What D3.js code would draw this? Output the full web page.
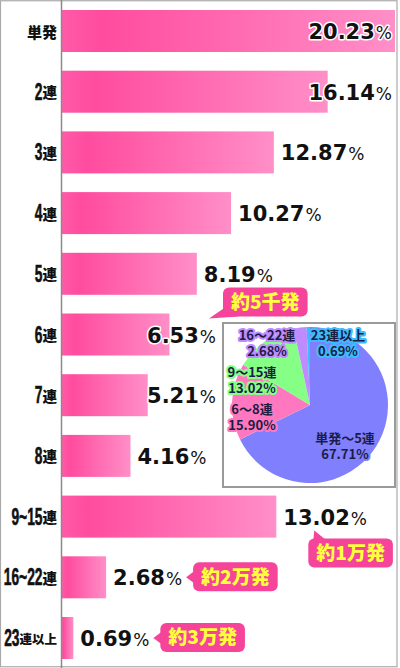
<!DOCTYPE html>
<html><head><meta charset="utf-8">
<script src="https://cdn.jsdelivr.net/npm/d3@7"></script>
<style>body{margin:0;background:#fff}svg{display:block}</style>
</head><body><svg id="c" width="400" height="668"></svg>
<script>
// ---- data ----
const categories = ["単発","2連","3連","4連","5連","6連","7連","8連","9~15連","16~22連","23連以上"];
const values = [20.23,16.14,12.87,10.27,8.19,6.53,5.21,4.16,13.02,2.68,0.69];
const pieCategories = ["単発〜5連","6〜8連","9〜15連","16〜22連","23連以上"];
const pieValues = [67.71,15.90,13.02,2.68,0.69];
const calloutCategories = ["6連","9~15連","16~22連","23連以上"];
const calloutTexts = ["約5千発","約1万発","約2万発","約3万発"];

// ---- layout / style ----
const W = 400, H = 668;
const JP = "'Noto Sans CJK JP','Noto Sans CJK SC',sans-serif";
const NUM = "'DejaVu Sans',sans-serif";
const box = {x: 223, y: 323, w: 172, h: 164};
const pieC = {x: 310, y: 405, r: 78};
const pieColors = ["#8080ff","#ff78bf","#86ff86","#bf8cff","#3cbcff"];
const pieLabelOffsets = [[35,33],[-58,4],[-58,-33],[-43,-70],[28,-70]];

const svg = d3.select("#c");
svg.append("rect").attr("width",W).attr("height",H).attr("fill","#fff");
const defs = svg.append("defs");
const g = defs.append("linearGradient").attr("id","barGrad")
  .attr("x1","0").attr("x2","1").attr("y1","0").attr("y2","0");
g.append("stop").attr("offset","0").attr("stop-color","#ff5aa8");
g.append("stop").attr("offset","0.12").attr("stop-color","#ff4c9e");
g.append("stop").attr("offset","1").attr("stop-color","#ff8fc8");

const x = d3.scaleLinear().domain([0, d3.max(values)]).range([62, 395]);
const y = d3.scaleBand().domain(categories).range([10, 659]).paddingInner(0.308).paddingOuter(0);

// border
svg.append("rect").attr("x",0.5).attr("y",0.75).attr("width",396.5).attr("height",666)
  .attr("fill","none").attr("stroke","#aaa").attr("stroke-width",1.2);

// bars
svg.append("g").selectAll("rect").data(values).join("rect")
  .attr("x", x(0))
  .attr("y", (d,i) => y(categories[i]))
  .attr("width", d => x(d) - x(0))
  .attr("height", y.bandwidth())
  .attr("fill","url(#barGrad)");

// axis line
svg.append("line").attr("x1",x(0)-0.5).attr("x2",x(0)-0.5).attr("y1",0).attr("y2",H)
  .attr("stroke","#8a8a8a").attr("stroke-width",1.5);

// category labels
const catG = svg.append("g");
categories.forEach((c,i) => {
  const cy = y(c) + y.bandwidth()/2;
  const m = c.match(/^([0-9~]*)(.*)$/);
  const digits = m[1], kanji = m[2];
  const ksize = digits ? (kanji.length > 1 ? 12.5 : 14.5) : 15;
  const kt = catG.append("text").attr("x",57).attr("y",cy+6.5)
    .attr("text-anchor","end").attr("font-family",JP).attr("font-weight",900)
    .attr("font-size",ksize).attr("fill","#111").text(kanji);
  if (digits) {
    const kw = kt.node().getComputedTextLength();
    catG.append("text").attr("transform",`translate(${57-kw},${cy+8}) scale(0.6,1)`)
      .attr("text-anchor","end").attr("font-family","'Liberation Sans',Arial,sans-serif")
      .attr("font-weight",700).attr("font-size",23).attr("fill","#111")
      .attr("stroke","#111").attr("stroke-width",0.6).text(digits);
  }
});

// pie box
svg.append("rect").attr("x",box.x).attr("y",box.y).attr("width",box.w).attr("height",box.h)
  .attr("fill","#fff").attr("stroke","#9a9a9a").attr("stroke-width",2);

// value labels
const info = {};
const valG = svg.append("g");
values.forEach((v,i) => {
  const c = categories[i];
  const top = y(c), bot = top + y.bandwidth(), cy = top + y.bandwidth()/2;
  const t = valG.append("text").attr("y", cy + 8)
    .attr("fill","#111").attr("stroke","#fff").attr("stroke-width",3)
    .attr("stroke-linejoin","round").attr("paint-order","stroke");
  t.append("tspan").attr("font-family",NUM).attr("font-weight",700).attr("font-size",21).text(v.toFixed(2));
  t.append("tspan").attr("font-family",NUM).attr("font-weight",400).attr("font-size",17).attr("dx",1).text("%");
  const w = t.node().getComputedTextLength() + 1;
  let x0 = x(v) + 7;
  let limit = 392;
  if (bot > box.y && top < box.y + box.h && x0 + w > box.x - 7) limit = box.x - 7;
  if (x0 + w > limit) x0 = limit - w;
  t.attr("x", x0);
  info[c] = {start: x0, end: x0 + w, top, bot, cy, overlapsBox: bot > box.y && top < box.y + box.h};
});

// callouts
const callG = svg.append("g");
calloutCategories.forEach((c,i) => {
  const L = info[c];
  const t = callG.append("text").attr("font-family",JP).attr("font-weight",900)
    .attr("font-size",19).attr("fill","#ffff3a").attr("text-anchor","middle").text(calloutTexts[i]);
  const tw = t.node().getComputedTextLength();
  const bw = tw + 16, bh = 29;
  let bx, by, tri;
  if (L.overlapsBox) {
    bx = L.end + 7; by = L.top - 26;
    tri = [[bx+2, by+bh-9],[bx+15, by+bh],[L.end - 7, L.top + 5]];
  } else if (L.end + 11 + bw <= 394) {
    bx = L.end + 11; by = L.cy - bh/2 - 0.5;
    tri = [[bx+1, L.cy-6],[bx+1, L.cy+6],[L.end + 4, L.cy]];
  } else {
    bx = L.start + 25; by = L.bot + 1;
    tri = [[bx+5, by+1],[bx+17, by+1],[bx+6, L.bot - 7]];
  }
  const gg = callG.insert("g", () => t.node());
  gg.append("path").attr("d", d3.line()(tri) + "Z").attr("fill","#f5449a");
  gg.append("rect").attr("x",bx).attr("y",by).attr("width",bw).attr("height",bh)
    .attr("rx",6).attr("fill","#f5449a");
  t.attr("x", bx + bw/2).attr("y", by + bh/2 + 7);
});

// pie
const pie = d3.pie().sort(null).value(d => d)(pieValues);
const arc = d3.arc().innerRadius(0).outerRadius(pieC.r);
const pg = svg.append("g").attr("transform",`translate(${pieC.x},${pieC.y})`);
pg.selectAll("path").data(pie).join("path").attr("d",arc).attr("fill",(d,i)=>pieColors[i]);
pieCategories.forEach((c,i) => {
  const [dx,dy] = pieLabelOffsets[i];
  const lines = [c, pieValues[i].toFixed(2) + "%"];
  lines.forEach((s,k) => {
    pg.append("text").attr("text-anchor","middle").attr("font-family",JP)
      .attr("font-weight",700).attr("font-size",13).attr("fill","#1c1c44")
      .attr("stroke", pieColors[i]).attr("stroke-width",4).attr("stroke-linejoin","round")
      .attr("paint-order","stroke")
      .attr("x",dx).attr("y",dy + 5 + k*16).text(s);
  });
});
</script></body></html>
